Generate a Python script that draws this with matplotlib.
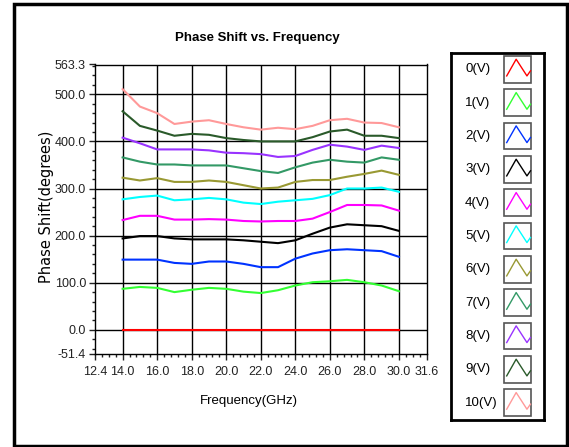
import numpy as np
import matplotlib
matplotlib.use('Agg')
import matplotlib.pyplot as plt
from matplotlib.patches import Rectangle
from matplotlib.ticker import FixedLocator

plt.rcParams['font.family'] = ['Liberation Sans', 'DejaVu Sans']

# frequency points (GHz)
freq = [14, 15, 16, 17, 18, 19, 20, 21, 22, 23, 24, 25, 26, 27, 28, 29, 30]

# phase shift (degrees) per bias voltage
v0 = [0, 0, 0, 0, 0, 0, 0, 0, 0, 0, 0, 0, 0, 0, 0, 0, 0]
v1 = [87, 91, 89, 80, 85, 89, 87, 81, 78, 84, 94, 101, 103, 106, 101, 94, 82]
v2 = [149, 149, 149, 142, 140, 145, 145, 140, 133, 133, 151, 162, 169, 171, 169, 167, 155]
v3 = [194, 199, 199, 194, 192, 192, 192, 190, 187, 184, 190, 204, 217, 224, 222, 220, 210]
v4 = [233, 242, 242, 234, 234, 235, 234, 231, 230, 231, 231, 236, 250, 265, 265, 264, 253]
v5 = [277, 282, 285, 275, 277, 280, 277, 270, 267, 272, 275, 278, 286, 300, 300, 302, 293]
v6 = [323, 317, 322, 314, 314, 317, 314, 307, 300, 302, 314, 318, 318, 325, 331, 338, 329]
v7 = [366, 357, 351, 351, 349, 349, 349, 343, 337, 333, 345, 355, 361, 357, 355, 366, 361]
v8 = [408, 396, 383, 383, 383, 381, 376, 375, 373, 367, 369, 382, 393, 389, 382, 391, 386]
v9 = [464, 433, 423, 412, 416, 414, 407, 403, 400, 400, 400, 409, 421, 425, 412, 412, 407]
v10 = [511, 474, 460, 437, 442, 445, 437, 430, 425, 429, 426, 433, 445, 448, 440, 439, 430]

series = [v0, v1, v2, v3, v4, v5, v6, v7, v8, v9, v10]
labels = ['0(V)', '1(V)', '2(V)', '3(V)', '4(V)', '5(V)', '6(V)', '7(V)', '8(V)', '9(V)', '10(V)']
colors = ['#ff0000', '#33ff33', '#0033ff', '#000000', '#ff00ff', '#00ffff',
          '#999933', '#339966', '#9933ff', '#2a5a2a', '#ff9999']

xticks = [12.4, 14.0, 16.0, 18.0, 20.0, 22.0, 24.0, 26.0, 28.0, 30.0, 31.6]
yticks = [-51.4, 0.0, 100.0, 200.0, 300.0, 400.0, 500.0, 563.3]
xgrid = [14, 16, 18, 20, 22, 24, 26, 28, 30]
ygrid = [0, 100, 200, 300, 400, 500]

W, H = 569, 447
fig = plt.figure(figsize=(W / 100, H / 100), dpi=100)

# main plot area (pixel box -> figure fraction)
ax = fig.add_axes([95 / W, 1 - 354 / H, (426.5 - 95) / W, (354 - 64.5) / H])
ax.set_xlim(12.4, 31.6)
ax.set_ylim(-51.4, 563.3)

for g in xgrid:
    ax.axvline(g, color='black', lw=1, zorder=1)
for g in ygrid:
    ax.axhline(g, color='black', lw=1, zorder=1)

for vals, c in zip(series, colors):
    ax.plot(freq, vals, color=c, lw=1.5, zorder=3)

ax.set_xticks(xticks)
ax.set_xticklabels([f'{t:.1f}' for t in xticks])
ax.set_yticks(yticks)
ax.set_yticklabels([f'{t:.1f}' for t in yticks])
ax.xaxis.set_minor_locator(FixedLocator(np.arange(12.4, 31.7, 0.4)))
ax.yaxis.set_minor_locator(FixedLocator(np.arange(-40, 561, 20)))
ax.tick_params(which='major', direction='out', length=4.5, width=1, labelsize=9, pad=2, colors='#222222')
ax.tick_params(axis='x', which='major', pad=4)
ax.tick_params(which='minor', direction='out', length=2.5, width=1, colors='#222222')
for s in ax.spines.values():
    s.set_linewidth(1)

fig.text(257 / W, 1 - 38 / H, 'Phase Shift vs. Frequency', ha='center', va='center',
         fontsize=9.5, fontweight='bold')
fig.text(249 / W, 1 - 401 / H, 'Frequency(GHz)', ha='center', va='center', fontsize=9.5)
fig.text(47 / W, 1 - 207 / H, 'Phase Shift(degrees)', ha='center', va='center',
         rotation=90, fontsize=10.5, family='DejaVu Sans')

# legend panel, drawn in pixel coordinates
lax = fig.add_axes([450.7 / W, 1 - 420 / H, (544 - 450.7) / W, (420 - 53) / H])
lax.set_xlim(450.7, 544)
lax.set_ylim(420, 53)
lax.set_xticks([])
lax.set_yticks([])
for s in lax.spines.values():
    s.set_linewidth(2)
icon_x = np.array([0.1, 0.45, 0.85, 0.98])
icon_y = np.array([0.25, 0.875, 0.25, 0.44])
for i, (lab, c) in enumerate(zip(labels, colors)):
    yc = 69.3 + i * 33.33
    lax.text(465, yc, lab, ha='left', va='center', fontsize=9.5)
    lax.add_patch(Rectangle((504, yc - 13.3), 27, 26.7, fill=False, ec='#555555', lw=1.2))
    lax.plot(504 + 27 * icon_x, yc + 13.3 - 26.7 * icon_y, color=c, lw=1)

# outer frame
fig.patches.append(Rectangle((13.5 / W, 1 - 446 / H), (567 - 13.5) / W, (446 - 3.5) / H,
                             transform=fig.transFigure, fill=False, ec='black', lw=2.5))

fig.savefig('out.png', dpi=100)
